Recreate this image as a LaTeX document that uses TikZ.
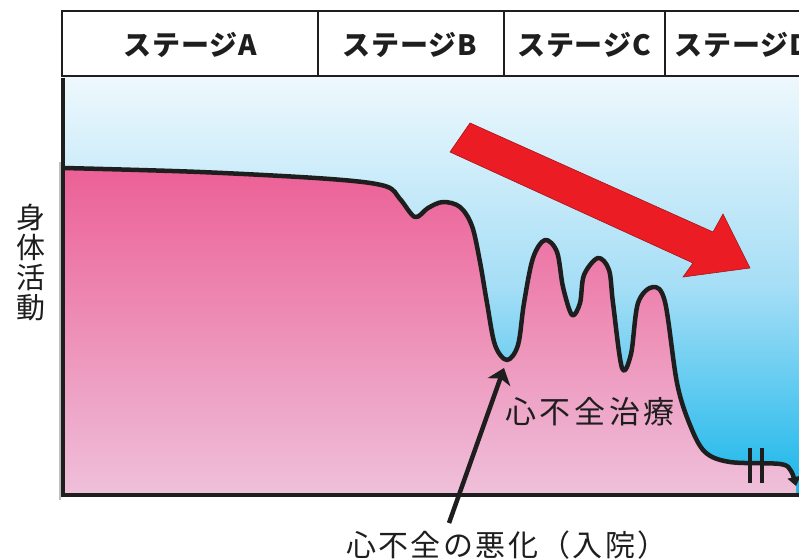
\documentclass[tikz,border=0pt]{standalone}
\usepackage{fontspec}
\newfontfamily\jp{Noto Sans CJK JP}
\newfontfamily\jpwide{Noto Sans CJK JP}[LetterSpace=12]
\newfontfamily\jpmid{Noto Sans CJK JP}[LetterSpace=8]
\newfontfamily\jphdr{Noto Sans CJK JP}[LetterSpace=3]
\usetikzlibrary{arrows.meta}
\definecolor{skytop}{RGB}{238,248,253}
\definecolor{skymid}{RGB}{165,222,246}
\definecolor{skybot}{RGB}{24,182,234}
\definecolor{pinktop}{RGB}{236,96,150}
\definecolor{pinkbot}{RGB}{239,192,218}
\definecolor{arrowred}{RGB}{236,28,36}
\definecolor{linedark}{RGB}{30,30,30}
\tikzset{
  hdr/.style={font=\jphdr\bfseries\fontsize{28}{28}\selectfont, text=linedark, inner sep=0pt},
  lbl/.style={font=\jp\fontsize{29}{30}\selectfont, text=linedark, inner sep=0pt, align=center},
  curveline/.style={line width=4.5pt, draw=linedark, line join=round, line cap=round},
}
\begin{document}
\begin{tikzpicture}[x=1pt,y=-1pt]
\useasboundingbox (0,0) rectangle (799,559);
% sky background
\shade[top color=skytop, bottom color=skybot, middle color=skymid] (64,78) rectangle (800,495);
% pink region
\shade[top color=pinktop, bottom color=pinkbot] (64,495) -- plot[smooth,tension=.55] coordinates {(64,168) (200,172) (330,179) (385,186) (400,199) (415,217) (428,208) (443,202) (460,207) (472,226) (480,262) (487,303) (495,345) (507,360) (518,345) (524,303) (533,258) (545,240) (557,252) (563,287) (572,315) (580,303) (584,275) (598,258) (609,270) (613,303) (622,368) (631,354) (638,303) (653,287) (665,302) (677,383) (690,425) (705,452) (730,462) (780,464) (791,471) (796,486)} -- (796,495) -- cycle;
% curve
\draw[curveline, -{Triangle[length=9pt,width=13pt]}] plot[smooth,tension=.55] coordinates {(64,168) (200,172) (330,179) (385,186) (400,199) (415,217) (428,208) (443,202) (460,207) (472,226) (480,262) (487,303) (495,345) (507,360) (518,345) (524,303) (533,258) (545,240) (557,252) (563,287) (572,315) (580,303) (584,275) (598,258) (609,270) (613,303) (622,368) (631,354) (638,303) (653,287) (665,302) (677,383) (690,425) (705,452) (730,462) (780,464) (791,471) (796,486)};
% break marks
\coordinate (b1t) at (750,448); \coordinate (b1b) at (750,483);
\coordinate (b2t) at (762,448); \coordinate (b2b) at (762,483);
\draw[line width=3.5pt, draw=linedark] (b1t) -- (b1b) (b2t) -- (b2b);
% red arrow
\draw[fill=arrowred, draw=arrowred!70!black, line width=0.6pt, line join=miter]
  (470,123) -- (713,232) -- (723,214) -- (750,268) -- (683,277) -- (693,263) -- (450,152) -- cycle;
% axes
\draw[line width=2pt, draw=black!25] (60,162) -- (60,500);
\draw[line width=4pt, draw=linedark] (63,78) -- (63,497);
\draw[line width=4pt, draw=linedark] (61,495) -- (800,495);
% header
\draw[line width=2pt, draw=linedark] (62,11) rectangle (805,76);
\draw[line width=2pt, draw=linedark] (318,11) -- (318,76) (504,11) -- (504,76) (665,11) -- (665,76);
\node[hdr] (sA) at (190,45) {ステージA};
\node[hdr] (sB) at (410,45) {ステージB};
\node[hdr] (sC) at (584,45) {ステージC};
\node[hdr] (sD) at (742,45) {ステージD};
% labels
\node[lbl] (yl) at (31,263) {身\\体\\活\\動};
\node[lbl, font=\jpwide\fontsize{31}{31}\selectfont] (treat) at (590,412) {心不全治療};
\node[lbl, font=\jpmid\fontsize{30}{30}\selectfont] (worse) at (507,545) {心不全の悪化（入院）};
% pointer arrow
\coordinate (tail) at (449,523);
\coordinate (dip) at (504,368);
\draw[line width=4.5pt, draw=linedark, -{Stealth[length=15pt,width=24pt,inset=4pt]}] (tail) -- (dip);
\end{tikzpicture}
\end{document}
